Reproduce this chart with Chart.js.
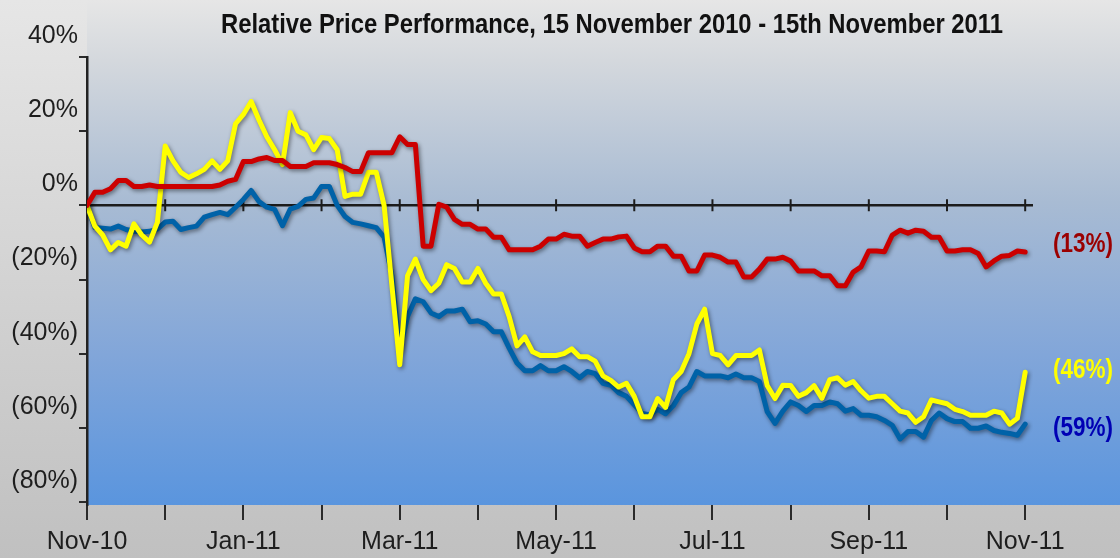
<!DOCTYPE html>
<html>
<head>
<meta charset="utf-8">
<script src="https://cdn.jsdelivr.net/npm/chart.js@4.4.1/dist/chart.umd.min.js"></script>
<style>
  html, body { margin: 0; padding: 0; background: #d8d8d8; }
  #wrap { width: 1120px; height: 558px; position: relative; }
</style>
</head>
<body>
<div id="wrap"><canvas id="perfChart"></canvas></div>
<script>
// one sample every tenth of a month, Nov-10 .. Nov-11
const STEP = 0.1;
const xTickLabels = ['Nov-10', '', 'Jan-11', '', 'Mar-11', '', 'May-11', '', 'Jul-11', '', 'Sep-11', '', 'Nov-11'];
const yTickValues = [40, 20, 0, -20, -40, -60, -80];
const titleText = 'Relative Price Performance, 15 November 2010 - 15th November 2011';
const endLabels = ['(13%)', '(46%)', '(59%)'];

const redSeries = [
    0, 3.5, 3.5, 4.5, 6.7, 6.7, 5.1, 5.1, 5.5, 5.1,
    5.1, 5.1, 5.1, 5.1, 5.1, 5.1, 5.1, 5.5, 6.5, 7.0,
    11.8, 11.8, 12.5, 12.9, 12.1, 12.1, 10.5, 10.5, 10.5, 11.5,
    11.5, 11.5, 11, 10.2, 9.1, 9.1, 14.2, 14.2, 14.2, 14.2,
    18.5, 16.4, 16.4, -11, -11, 0.3, -0.5, -3.8, -5.1, -5.1,
    -6.4, -6.4, -8.6, -8.6, -12, -12, -12, -12, -11, -9.1,
    -9.1, -7.8, -8.3, -8.3, -11, -10, -9.1, -9.1, -8.5, -8.3,
    -11.5, -12.5, -12.5, -11, -11, -13.7, -13.7, -17.7, -17.7, -13.4,
    -13.4, -14, -15.3, -15.3, -19.3, -19.3, -17.2, -14.5, -14.5, -14,
    -15, -17.7, -17.7, -17.7, -19, -19, -21.7, -21.7, -18, -16.6,
    -12.3, -12.3, -12.5, -8, -6.7, -7.5, -6.7, -7, -8.6, -8.6,
    -12.3, -12.3, -12, -12, -13, -16.6, -15, -13.7, -13.5, -12.3,
    -12.6
];

const yellowSeries = [
    0, -5.6, -8, -12, -10, -11, -5, -8, -9.9, -4.6,
    16, 12, 8.9, 7.5, 8.5, 9.7, 12, 9.7, 12, 22,
    24.5, 28, 23, 18.5, 15, 11, 25, 20, 19, 15,
    18.3, 18, 15, 2.4, 3, 3, 8.9, 8.9, 0, -21.7,
    -43, -19, -14.5, -20, -23, -21, -16, -17, -20.7, -20.7,
    -17, -21, -23.9, -23.9, -30, -37.9, -35.5, -39.5, -40.5, -40.5,
    -40.5, -40, -38.7, -40.8, -40.8, -42, -46, -47.2, -49, -48,
    -51.5, -57, -57, -52.1, -54.5, -47, -44.8, -40, -32, -28,
    -40, -40.5, -43, -40.5, -40.5, -40.5, -39, -48.6, -52.1, -48.5,
    -48.6, -51.5, -50.5, -48.6, -52, -47, -46.5, -48.5, -47.5, -50,
    -52, -51.5, -51.5, -53.5, -55.5, -56, -58.5, -57, -52.5, -53,
    -53.5, -55, -55.6, -56.6, -56.6, -56.6, -55.5, -56, -59, -57.4,
    -45
];

const blueSeries = [
    0, -6, -6.2, -6.4, -5.6, -6.5, -7, -7.2, -7, -6.4,
    -4.5, -4.3, -6.5, -6, -5.6, -3.2, -2.5, -1.9, -2.5, -0.5,
    1.6, 4, 1, -0.5, -1.1, -5.5, -1, -0.3, 1.6, 2,
    5.1, 5.1, 0, -3, -4.6, -5, -5.5, -6, -8.6, -19,
    -39, -30, -25.2, -26, -29, -30, -28.5, -28.5, -28, -31.4,
    -31.1, -32, -34.1, -34.1, -38.5, -42.5, -44.6, -44.6, -43.2, -44.6,
    -44.6, -43.5, -44.8, -46.5, -44.8, -45.4, -48, -48.5, -50.5, -51.5,
    -53.8, -56.1, -56.5, -55, -56.2, -54, -50.5, -49, -44.8, -46,
    -46, -46, -46.5, -45.5, -46.5, -46.5, -47.5, -55.6, -58.8, -55.5,
    -53, -54, -55.6, -54, -54, -53, -53.5, -55.5, -54.8, -56.6,
    -56.6, -57, -58, -59.3, -63, -61, -61, -62.5, -58, -56,
    -57.5, -58.3, -58.3, -60.1, -60.1, -59.5, -60.7, -61.2, -61.5, -62,
    -59
];

const NARROW = "'Liberation Sans Narrow', 'Arial Narrow', 'Liberation Sans', Arial, sans-serif";
const REGULAR = "'Liberation Sans', Arial, sans-serif";

function toPoints(values) {
    return values.map((v, i) => ({ x: i * STEP, y: v }));
}

// squeeze text horizontally when the font comes out wider than the space
function fitText(ctx, text, x, y, maxWidth) {
    const k = Math.min(1, maxWidth / ctx.measureText(text).width);
    ctx.save();
    ctx.translate(x, y);
    ctx.scale(k, 1);
    ctx.fillText(text, 0, 0);
    ctx.restore();
}

const backdrop = {
    id: 'backdrop',
    beforeDraw(chart) {
        const { ctx, width, height, chartArea: a } = chart;
        ctx.save();
        let g = ctx.createLinearGradient(0, 0, 0, height);
        g.addColorStop(0, '#e6e6e6');
        g.addColorStop(1, '#c0c0c0');
        ctx.fillStyle = g;
        ctx.fillRect(0, 0, width, height);

        g = ctx.createLinearGradient(0, 0, 0, a.bottom);
        g.addColorStop(0, '#e6e6e6');
        g.addColorStop(0.12, '#d4d8dd');
        g.addColorStop(0.4, '#a8bbd3');
        g.addColorStop(0.7, '#82a6d9');
        g.addColorStop(1, '#5a95de');
        ctx.fillStyle = g;
        ctx.fillRect(a.left, 0, width - a.left, a.bottom);
        ctx.restore();
    }
};

const zeroAxis = {
    id: 'zeroAxis',
    beforeDatasetsDraw(chart) {
        const { ctx, chartArea: a, scales: { x, y } } = chart;
        const y0 = y.getPixelForValue(0);
        ctx.save();
        ctx.strokeStyle = '#1c1c1c';
        ctx.lineWidth = 2.5;
        ctx.beginPath();
        ctx.moveTo(a.left, y0);
        ctx.lineTo(a.right, y0);
        ctx.stroke();
        ctx.lineWidth = 2;
        ctx.beginPath();
        x.ticks.forEach(t => {
            const px = x.getPixelForValue(t.value);
            ctx.moveTo(px, y0 - 6);
            ctx.lineTo(px, y0 + 6);
        });
        ctx.stroke();
        ctx.restore();
    }
};

const lineShadow = {
    id: 'lineShadow',
    beforeDatasetDraw(chart) {
        const c = chart.ctx;
        c.save();
        c.shadowColor = 'rgba(0, 0, 0, 0.45)';
        c.shadowBlur = 4;
        c.shadowOffsetX = 1.5;
        c.shadowOffsetY = 2;
    },
    afterDatasetDraw(chart) {
        chart.ctx.restore();
    }
};

const annotations = {
    id: 'annotations',
    afterDraw(chart) {
        const { ctx, scales: { y } } = chart;
        ctx.save();
        ctx.textAlign = 'center';
        ctx.textBaseline = 'alphabetic';
        ctx.fillStyle = '#111';
        ctx.font = `bold 28px ${NARROW}`;
        fitText(ctx, titleText, 612, 33, 782);

        ctx.textBaseline = 'middle';
        ctx.font = `bold 27px ${NARROW}`;
        chart.data.datasets.forEach((ds, i) => {
            const last = ds.data[ds.data.length - 1].y;
            ctx.fillStyle = ds.labelColor;
            fitText(ctx, endLabels[i], 1083, y.getPixelForValue(last) + ds.labelNudge, 60);
        });
        ctx.restore();
    }
};

const lineStyle = {
    borderWidth: 5,
    pointRadius: 0,
    tension: 0,
    fill: false,
    borderJoinStyle: 'round',
    borderCapStyle: 'round'
};

new Chart(document.getElementById('perfChart'), {
    type: 'line',
    data: {
        datasets: [
            { ...lineStyle, data: toPoints(redSeries), borderColor: '#cc0000', order: 0, labelColor: '#9b0000', labelNudge: -8 },
            { ...lineStyle, data: toPoints(yellowSeries), borderColor: '#ffff00', order: 1, labelColor: '#ffff00', labelNudge: -2 },
            { ...lineStyle, data: toPoints(blueSeries), borderColor: '#0062a8', order: 2, labelColor: '#0000b4', labelNudge: 4 }
        ]
    },
    options: {
        responsive: true,
        maintainAspectRatio: false,
        animation: false,
        layout: { padding: { top: 57, right: 87, bottom: 0, left: 0 } },
        plugins: {
            legend: { display: false },
            title: { display: false },
            tooltip: { enabled: false }
        },
        scales: {
            x: {
                type: 'linear',
                min: 0,
                max: 12.1,
                afterBuildTicks: s => { s.ticks = xTickLabels.map((_, i) => ({ value: i })); },
                afterFit: s => { s.height = 53; },
                grid: { drawOnChartArea: false, drawTicks: true, tickLength: 15, color: '#2a2a2a', lineWidth: 2 },
                border: { display: false },
                ticks: {
                    autoSkip: false,
                    maxRotation: 0,
                    padding: 7,
                    color: '#1e1e1e',
                    font: { family: REGULAR, size: 25 },
                    callback: v => xTickLabels[v] ?? ''
                }
            },
            y: {
                min: -80.8,
                max: 40,
                afterBuildTicks: s => { s.ticks = yTickValues.map(v => ({ value: v })); },
                afterFit: s => { s.width = 87; },
                grid: { drawOnChartArea: false, tickLength: 8, color: '#2a2a2a', lineWidth: 2 },
                border: { display: true, color: '#222', width: 2.5 },
                ticks: {
                    labelOffset: -21,
                    padding: 1,
                    color: '#1e1e1e',
                    font: { family: REGULAR, size: 25 },
                    callback: v => v < 0 ? `(${-v}%)` : `${v}%`
                }
            }
        }
    },
    plugins: [backdrop, zeroAxis, lineShadow, annotations]
});
</script>
</body>
</html>
